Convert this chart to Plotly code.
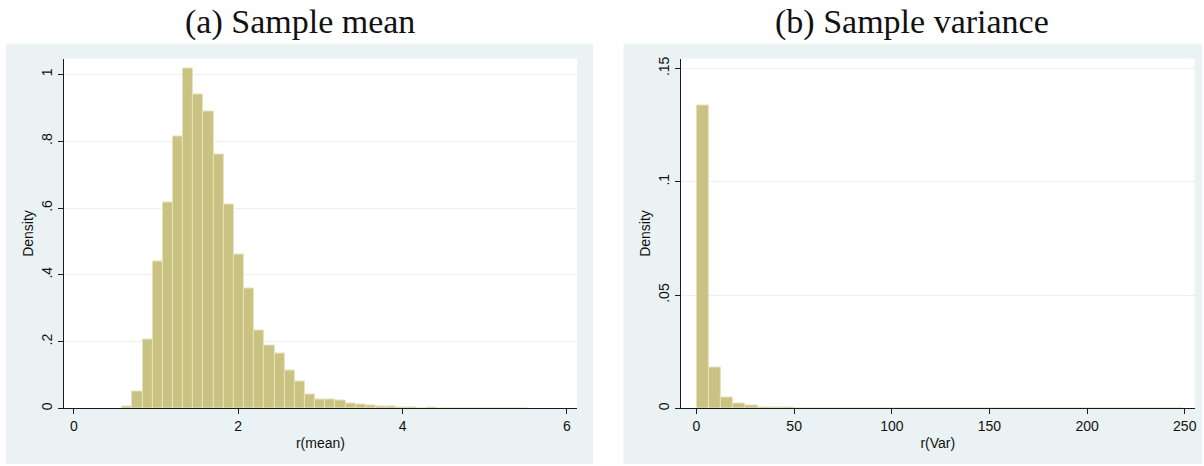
import plotly.graph_objects as go

W, H = 1204, 466

# ---- data ----
mean_bin_start = 0.587
mean_bin_width = 0.1236
mean_density = [0.007, 0.050, 0.205, 0.441, 0.617, 0.813, 1.017, 0.939, 0.889, 0.760,
                0.612, 0.460, 0.360, 0.233, 0.189, 0.165, 0.114, 0.080, 0.042, 0.027,
                0.027, 0.023, 0.015, 0.012, 0.008, 0.007, 0.005, 0.004, 0.002, 0.001,
                0.0015, 0.0005, 0.0005, 0.0, 0.001, 0.001, 0.0, 0.0, 0.0, 0.001]

var_bin_start = 0.1
var_bin_width = 6.22
var_density = [0.1338, 0.0182, 0.0048, 0.0022, 0.0011, 0.0005, 0.0004, 0.0003, 0.0002, 0.0002,
               0.0001, 0.0001, 0.0001, 0.0001, 0.00005, 0.0001, 0.00005, 0.00005, 0.00005, 0.0001,
               0.0001, 0.0001, 0.0, 0.0001, 0.0001, 0.0, 0.0, 0.0, 0.0001, 0.0,
               0.0, 0.0001, 0.0, 0.0, 0.0, 0.0, 0.0001, 0.0, 0.0001, 0.0001]

mean_xticks = [0, 2, 4, 6]
mean_yticks = [0, 0.2, 0.4, 0.6, 0.8, 1.0]
mean_yticklabels = ["0", ".2", ".4", ".6", ".8", "1"]
var_xticks = [0, 50, 100, 150, 200, 250]
var_yticks = [0, 0.05, 0.10, 0.15]
var_yticklabels = ["0", ".05", ".1", ".15"]

titles = ["(a) Sample mean", "(b) Sample variance"]
xtitles = ["r(mean)", "r(Var)"]

# ---- styling ----
BAR_FILL = "#C9C280"
BAR_LINE = "#E6E2BD"
PANEL_BG = "#EAF2F3"
GRID = "#EAF2F3"
AXIS = "#1a1a1a"


def px_x(p):
    return p / W


def px_y(p):
    return 1 - p / H


fig = go.Figure()

mean_centers = [mean_bin_start + (i + 0.5) * mean_bin_width for i in range(len(mean_density))]
var_centers = [var_bin_start + (i + 0.5) * var_bin_width for i in range(len(var_density))]

fig.add_trace(go.Bar(x=mean_centers, y=mean_density, width=mean_bin_width,
                     marker=dict(color=BAR_FILL, line=dict(color=BAR_LINE, width=1)),
                     xaxis="x", yaxis="y", showlegend=False, hoverinfo="x+y"))
fig.add_trace(go.Bar(x=var_centers, y=var_density, width=var_bin_width,
                     marker=dict(color=BAR_FILL, line=dict(color=BAR_LINE, width=1)),
                     xaxis="x2", yaxis="y2", showlegend=False, hoverinfo="x+y"))

# plot-area pixel boxes
left_plot = (64, 578, 57, 410)
right_plot = (682, 1196.7, 57, 410)
left_panel = (6, 594, 42, 466)
right_panel = (624.5, 1204, 42, 466)

shapes = []
for (x0, x1, y0, y1) in (left_panel, right_panel):
    shapes.append(dict(type="rect", xref="paper", yref="paper", layer="below",
                       x0=px_x(x0), x1=px_x(x1), y0=px_y(y1), y1=px_y(y0),
                       fillcolor=PANEL_BG, line=dict(width=0)))
for (x0, x1, y0, y1) in (left_plot, right_plot):
    shapes.append(dict(type="rect", xref="paper", yref="paper", layer="below",
                       x0=px_x(x0), x1=px_x(x1), y0=px_y(y1), y1=px_y(y0),
                       fillcolor="white", line=dict(width=0)))

tickfont = dict(family="Liberation Sans, Arial, sans-serif", size=14, color="#111")

xaxis_common = dict(showline=True, linecolor=AXIS, linewidth=1, ticks="outside", ticklen=5,
                    tickcolor=AXIS, tickwidth=1, showgrid=False, zeroline=False,
                    tickfont=tickfont, title_font=tickfont, title_standoff=4)
yaxis_common = dict(showline=True, linecolor=AXIS, linewidth=1, ticks="outside", ticklen=5,
                    tickcolor=AXIS, tickwidth=1, showgrid=True, gridcolor=GRID, gridwidth=1,
                    zeroline=False, tickangle=-90, tickfont=tickfont, title_font=tickfont,
                    title_standoff=2)

fig.update_layout(
    width=W, height=H, margin=dict(l=0, r=0, t=0, b=0),
    paper_bgcolor="white", plot_bgcolor="white", bargap=0, shapes=shapes,
    xaxis=dict(domain=[px_x(left_plot[0]), px_x(left_plot[1])], range=[-0.1215, 6.124],
               tickvals=mean_xticks, ticktext=[str(v) for v in mean_xticks],
               title_text=xtitles[0], anchor="y", **xaxis_common),
    yaxis=dict(domain=[px_y(left_plot[3]), px_y(left_plot[2])], range=[0, 1.0475],
               tickvals=mean_yticks, ticktext=mean_yticklabels, title_text="Density",
               anchor="x", **yaxis_common),
    xaxis2=dict(domain=[px_x(right_plot[0]), px_x(right_plot[1])], range=[-8.0, 255.1],
                tickvals=var_xticks, ticktext=[str(v) for v in var_xticks],
                title_text=xtitles[1], anchor="y2", **xaxis_common),
    yaxis2=dict(domain=[px_y(right_plot[3]), px_y(right_plot[2])], range=[0, 0.1544],
                tickvals=var_yticks, ticktext=var_yticklabels, title_text="Density",
                anchor="x2", **yaxis_common),
)

titlefont = dict(family="Liberation Serif, Times New Roman, serif", size=34, color="#111")
for cx, t in zip((300, 914), titles):
    fig.add_annotation(text=t, xref="paper", yref="paper", x=px_x(cx), y=px_y(20),
                       xanchor="center", yanchor="middle", showarrow=False, font=titlefont)

fig.write_html("out.html")
